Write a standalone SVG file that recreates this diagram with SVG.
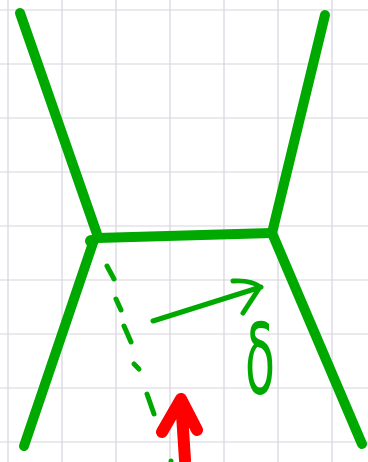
<svg xmlns="http://www.w3.org/2000/svg" width="368" height="462" viewBox="0 0 368 462">
<style>
.grid line{stroke:#d6d4de;stroke-width:1.2}
.thick{stroke:#00a900;stroke-width:10;stroke-linecap:round;stroke-linejoin:round;fill:none}
.thin{stroke:#00a900;stroke-width:5;stroke-linecap:round;stroke-linejoin:round;fill:none}
.red{stroke:#ff0000;stroke-width:12;stroke-linecap:round;stroke-linejoin:round;fill:none}
.lbl{font-family:"DejaVu Sans",sans-serif;fill:#00a900}
</style>
<rect width="368" height="462" fill="#ffffff"/>
<g class="grid">
<line x1="8" y1="0" x2="8" y2="462"/><line x1="62" y1="0" x2="62" y2="462"/><line x1="116" y1="0" x2="116" y2="462"/><line x1="170" y1="0" x2="170" y2="462"/><line x1="224" y1="0" x2="224" y2="462"/><line x1="278" y1="0" x2="278" y2="462"/><line x1="332" y1="0" x2="332" y2="462"/>
<line x1="0" y1="10" x2="368" y2="10"/><line x1="0" y1="64" x2="368" y2="64"/><line x1="0" y1="118" x2="368" y2="118"/><line x1="0" y1="172" x2="368" y2="172"/><line x1="0" y1="226" x2="368" y2="226"/><line x1="0" y1="280" x2="368" y2="280"/><line x1="0" y1="334" x2="368" y2="334"/><line x1="0" y1="388" x2="368" y2="388"/><line x1="0" y1="442" x2="368" y2="442"/>
</g>
<g id="frame">
<path class="thick" d="M20 13 L97 234"/>
<path class="thick" d="M97 238 L272 233"/>
<path class="thick" d="M325 15 L272 233"/>
<path class="thick" d="M272 233 L362 444"/>
<path class="thick" d="M94 240 L24 446"/>
<circle cx="91" cy="241" r="6" fill="#00a900"/>
</g>
<g id="connectors">
<path class="thin" d="M107 266 L114 279 M116 299 L121 310 M124 326 L131 342 M134 364 L139 369 M147 394 L154 414"/>
<path class="thin" d="M153 321 L261 287 M233 281 Q252 280 260 287 L243 313"/>
<path class="red" d="M185 460 L181 399 M162 432 L181 399 L197 430"/>
<circle cx="171" cy="461" r="2.5" fill="#00a900"/>
</g>
<g id="label">
<text class="lbl" x="245" y="394" font-size="98" textLength="30" lengthAdjust="spacingAndGlyphs">δ</text>
</g>
</svg>
